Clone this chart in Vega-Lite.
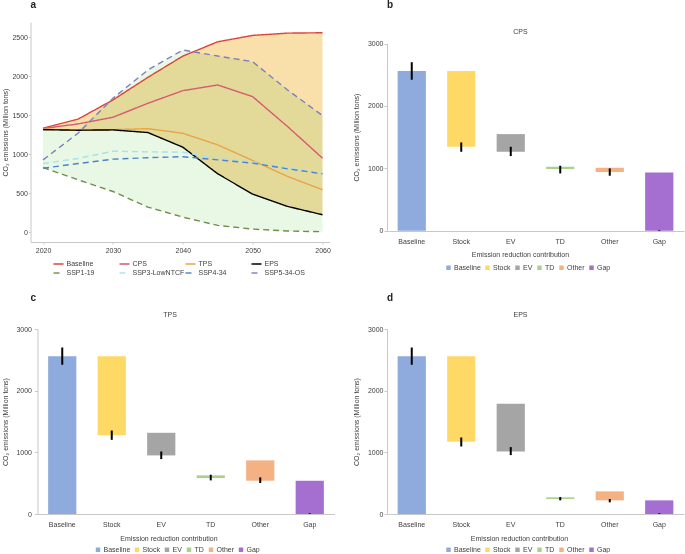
{
 "$schema": "https://vega.github.io/schema/vega-lite/v6.json",
 "padding": {"left": 1.5, "top": 0, "right": 0, "bottom": 0},
 "background": "white",
 "columns": 2,
 "align": "each",
 "spacing": {"row": 17, "column": 17.5},
 "resolve": {"scale": {"color": "independent", "strokeDash": "independent"}, "legend": {"color": "independent", "strokeDash": "independent"}},
 "config": {
  "font": "Liberation Sans",
  "view": {"stroke": null},
  "axis": {"labelFontSize": 7, "titleFontSize": 7, "titleFontWeight": "normal", "labelColor": "#404040", "titleColor": "#404040", "domainColor": "#c8c8c8", "tickColor": "#c8c8c8", "grid": false},
  "legend": {"labelFontSize": 7, "labelColor": "#404040", "padding": 0},
  "title": {"fontSize": 10, "fontWeight": "bold", "color": "#222222"}
 },
 "concat": [
    {
     "width": 299, "height": 220,
     "title": {"text": "a", "anchor": "start", "frame": "group", "offset": 12},
     "data": {"values": [
      {"year": 2020, "Baseline": 1335, "CPS": 1330, "TPS": 1322, "EPS": 1315, "SSP1-19": 829, "SSP3-LowNTCF": 880, "SSP4-34": 820, "SSP5-34-OS": 927, "GreenTop": 1315},
      {"year": 2025, "Baseline": 1450, "CPS": 1389, "TPS": 1305, "EPS": 1308, "SSP1-19": 671, "SSP3-LowNTCF": 945, "SSP4-34": 880, "SSP5-34-OS": 1269, "GreenTop": 1308},
      {"year": 2030, "Baseline": 1697, "CPS": 1474, "TPS": 1315, "EPS": 1312, "SSP1-19": 521, "SSP3-LowNTCF": 1038, "SSP4-34": 936, "SSP5-34-OS": 1718, "GreenTop": 1718},
      {"year": 2035, "Baseline": 1987, "CPS": 1654, "TPS": 1328, "EPS": 1278, "SSP1-19": 320, "SSP3-LowNTCF": 1030, "SSP4-34": 955, "SSP5-34-OS": 2081, "GreenTop": 2081},
      {"year": 2040, "Baseline": 2260, "CPS": 1816, "TPS": 1269, "EPS": 1090, "SSP1-19": 192, "SSP3-LowNTCF": 1026, "SSP4-34": 968, "SSP5-34-OS": 2338, "GreenTop": 2338},
      {"year": 2045, "Baseline": 2444, "CPS": 1889, "TPS": 1120, "EPS": 748, "SSP1-19": 85, "SSP3-LowNTCF": 945, "SSP4-34": 927, "SSP5-34-OS": 2261, "GreenTop": 2261},
      {"year": 2050, "Baseline": 2526, "CPS": 1739, "TPS": 919, "EPS": 487, "SSP1-19": 38, "SSP3-LowNTCF": 900, "SSP4-34": 885, "SSP5-34-OS": 2188, "GreenTop": 2188},
      {"year": 2055, "Baseline": 2555, "CPS": 1355, "TPS": 714, "EPS": 329, "SSP1-19": 13, "SSP3-LowNTCF": 825, "SSP4-34": 812, "SSP5-34-OS": 1825, "GreenTop": 1825},
      {"year": 2060, "Baseline": 2560, "CPS": 949, "TPS": 543, "EPS": 222, "SSP1-19": 4, "SSP3-LowNTCF": 755, "SSP4-34": 748, "SSP5-34-OS": 1496, "GreenTop": 1496}
     ]},
     "layer": [
      {
       "mark": {"type": "area", "color": "#f9e0ab"},
       "encoding": {
        "x": {"field": "year", "type": "quantitative", "title": null, "scale": {"domain": [2018.2, 2061.0], "nice": false, "zero": false}, "axis": {"values": [2020, 2025, 2030, 2035, 2040, 2045, 2050, 2055, 2060], "format": "d", "tickSize": 2, "labelPadding": 2}},
        "y": {"field": "EPS", "type": "quantitative", "title": "CO₂ emissions (Million tons)", "scale": {"domain": [-128, 2698], "nice": false, "zero": false}, "axis": {"values": [0, 500, 1000, 1500, 2000, 2500], "format": "d", "tickSize": 2, "labelPadding": 1, "titlePadding": 3}},
        "y2": {"field": "Baseline"}
       }
      },
      {
       "mark": {"type": "area", "color": "#e9f7e5", "blend": "multiply"},
       "encoding": {
        "x": {"field": "year", "type": "quantitative", "title": null},
        "y": {"field": "SSP1-19", "type": "quantitative", "title": "CO₂ emissions (Million tons)"},
        "y2": {"field": "GreenTop"}
       }
      },
      {
       "transform": [{"fold": ["Baseline", "CPS", "TPS", "EPS", "SSP1-19", "SSP3-LowNTCF", "SSP4-34", "SSP5-34-OS"], "as": ["scenario", "value"]}],
       "mark": {"type": "line", "strokeWidth": 1.4},
       "encoding": {
        "x": {"field": "year", "type": "quantitative", "title": null},
        "y": {"field": "value", "type": "quantitative", "title": "CO₂ emissions (Million tons)"},
        "color": {"field": "scenario", "type": "nominal",
         "scale": {"domain": ["Baseline", "CPS", "TPS", "EPS", "SSP1-19", "SSP3-LowNTCF", "SSP4-34", "SSP5-34-OS"], "range": ["#d8453a", "#d65b72", "#e8a547", "#000000", "#6e8f4a", "#a6e2ee", "#4f82cc", "#7c7fbd"]},
         "legend": {"orient": "none", "legendX": 22, "legendY": 236, "direction": "horizontal", "columns": 4, "title": null, "symbolType": "stroke", "symbolSize": 100, "symbolStrokeWidth": 1.4, "gridAlign": "all", "columnPadding": -5, "rowPadding": 0, "labelOffset": 2}},
        "strokeDash": {"field": "scenario", "type": "nominal",
         "scale": {"domain": ["Baseline", "CPS", "TPS", "EPS", "SSP1-19", "SSP3-LowNTCF", "SSP4-34", "SSP5-34-OS"], "range": [[1, 0], [1, 0], [1, 0], [1, 0], [6, 4], [6, 4], [6, 4], [6, 4]]},
         "legend": {"orient": "none", "legendX": 22, "legendY": 236, "direction": "horizontal", "columns": 4, "title": null, "symbolType": "stroke", "symbolSize": 100, "symbolStrokeWidth": 1.4, "gridAlign": "all", "columnPadding": -5, "rowPadding": 0, "labelOffset": 2}}
       }
      }
     ]
    },
    {
     "width": 297, "height": 209,
     "title": {"text": "b", "anchor": "start", "frame": "group", "offset": 12},
     "data": {"values": [
      {"cat": "Baseline", "lo": 0, "hi": 2560, "elo": 2420, "ehi": 2700},
      {"cat": "Stock", "lo": 1345, "hi": 2560, "elo": 1265, "ehi": 1415},
      {"cat": "EV", "lo": 1265, "hi": 1548, "elo": 1196, "ehi": 1345},
      {"cat": "TD", "lo": 988, "hi": 1025, "elo": 918, "ehi": 1041},
      {"cat": "Other", "lo": 940, "hi": 1009, "elo": 881, "ehi": 998},
      {"cat": "Gap", "lo": 0, "hi": 934, "elo": 0, "ehi": 12}
     ]},
     "resolve": {"axis": {"x": "independent"}},
     "layer": [
      {
       "mark": {"type": "bar"},
       "encoding": {
        "x": {"field": "cat", "type": "nominal", "sort": null, "title": "Emission reduction contribution", "scale": {"paddingInner": 0.43, "paddingOuter": 0.215}, "axis": {"labelAngle": 0, "ticks": false, "tickSize": 0, "labelPadding": 6, "titlePadding": 6, "titleX": 133}},
        "y": {"field": "lo", "type": "quantitative", "title": "CO₂ emissions (Million tons)", "scale": {"domain": [0, 3000], "nice": false, "range": [208.7, 21.5]}, "axis": {"values": [0, 500, 1000, 1500, 2000, 2500, 3000], "format": "d", "tickSize": 3, "labelPadding": 1, "titlePadding": 8}},
        "y2": {"field": "hi"},
        "color": {"field": "cat", "type": "nominal", "sort": null, "scale": {"domain": ["Baseline", "Stock", "EV", "TD", "Other", "Gap"], "range": ["#8faadc", "#ffd966", "#a5a5a5", "#a9d18e", "#f4b183", "#a56fd2"]},
         "legend": {"orient": "none", "legendX": 58, "legendY": 242, "direction": "horizontal", "title": null, "symbolType": "square", "symbolSize": 20, "columnPadding": 3, "labelOffset": 2}}
       }
      },
      {
       "mark": {"type": "rule", "color": "black", "strokeWidth": 2},
       "encoding": {
        "x": {"field": "cat", "type": "nominal", "sort": null, "title": "CPS", "axis": {"orient": "top", "labels": false, "ticks": false, "domain": false, "titleX": 133, "titleY": 11, "titleBaseline": "alphabetic"}},
        "y": {"field": "elo", "type": "quantitative", "title": "CO₂ emissions (Million tons)"},
        "y2": {"field": "ehi"}
       }
      }
     ]
    },
    {
     "width": 304, "height": 185,
     "title": {"text": "c", "anchor": "start", "frame": "group", "offset": 7},
     "data": {"values": [
      {"cat": "Baseline", "lo": 0, "hi": 2560, "elo": 2420, "ehi": 2700},
      {"cat": "Stock", "lo": 1279, "hi": 2560, "elo": 1203, "ehi": 1354},
      {"cat": "EV", "lo": 950, "hi": 1317, "elo": 890, "ehi": 1014},
      {"cat": "TD", "lo": 583, "hi": 626, "elo": 545, "ehi": 637},
      {"cat": "Other", "lo": 540, "hi": 869, "elo": 502, "ehi": 594},
      {"cat": "Gap", "lo": 0, "hi": 540, "elo": 0, "ehi": 12}
     ]},
     "resolve": {"axis": {"x": "independent"}},
     "layer": [
      {
       "mark": {"type": "bar"},
       "encoding": {
        "x": {"field": "cat", "type": "nominal", "sort": null, "title": "Emission reduction contribution", "scale": {"paddingInner": 0.43, "paddingOuter": 0.215, "range": [7, 304]}, "axis": {"labelAngle": 0, "ticks": false, "tickSize": 0, "labelPadding": 6, "titlePadding": 7, "titleX": 138}},
        "y": {"field": "lo", "type": "quantitative", "title": "CO₂ emissions (Million tons)", "scale": {"domain": [0, 3000], "nice": false}, "axis": {"values": [0, 500, 1000, 1500, 2000, 2500, 3000], "format": "d", "offset": -7, "tickSize": 3, "labelPadding": 3, "titlePadding": 7}},
        "y2": {"field": "hi"},
        "color": {"field": "cat", "type": "nominal", "sort": null, "scale": {"domain": ["Baseline", "Stock", "EV", "TD", "Other", "Gap"], "range": ["#8faadc", "#ffd966", "#a5a5a5", "#a9d18e", "#f4b183", "#a56fd2"]},
         "legend": {"orient": "none", "legendX": 64, "legendY": 217, "direction": "horizontal", "title": null, "symbolType": "square", "symbolSize": 20, "columnPadding": 3, "labelOffset": 2}}
       }
      },
      {
       "mark": {"type": "rule", "color": "black", "strokeWidth": 2},
       "encoding": {
        "x": {"field": "cat", "type": "nominal", "sort": null, "title": "TPS", "axis": {"orient": "top", "labels": false, "ticks": false, "domain": false, "titlePadding": 12, "titleX": 139}},
        "y": {"field": "elo", "type": "quantitative", "title": "CO₂ emissions (Million tons)"},
        "y2": {"field": "ehi"}
       }
      }
     ]
    },
    {
     "width": 297, "height": 185,
     "title": {"text": "d", "anchor": "start", "frame": "group", "offset": 7},
     "data": {"values": [
      {"cat": "Baseline", "lo": 0, "hi": 2560, "elo": 2420, "ehi": 2700},
      {"cat": "Stock", "lo": 1171, "hi": 2560, "elo": 1095, "ehi": 1241},
      {"cat": "EV", "lo": 1014, "hi": 1786, "elo": 955, "ehi": 1085},
      {"cat": "TD", "lo": 243, "hi": 270, "elo": 221, "ehi": 275},
      {"cat": "Other", "lo": 221, "hi": 367, "elo": 189, "ehi": 243},
      {"cat": "Gap", "lo": 0, "hi": 221, "elo": 0, "ehi": 12}
     ]},
     "resolve": {"axis": {"x": "independent"}},
     "layer": [
      {
       "mark": {"type": "bar"},
       "encoding": {
        "x": {"field": "cat", "type": "nominal", "sort": null, "title": "Emission reduction contribution", "scale": {"paddingInner": 0.43, "paddingOuter": 0.215}, "axis": {"labelAngle": 0, "ticks": false, "tickSize": 0, "labelPadding": 6, "titlePadding": 7, "titleX": 132}},
        "y": {"field": "lo", "type": "quantitative", "title": "CO₂ emissions (Million tons)", "scale": {"domain": [0, 3000], "nice": false}, "axis": {"values": [0, 500, 1000, 1500, 2000, 2500, 3000], "format": "d", "tickSize": 3, "labelPadding": 1, "titlePadding": 8}},
        "y2": {"field": "hi"},
        "color": {"field": "cat", "type": "nominal", "sort": null, "scale": {"domain": ["Baseline", "Stock", "EV", "TD", "Other", "Gap"], "range": ["#8faadc", "#ffd966", "#a5a5a5", "#a9d18e", "#f4b183", "#a56fd2"]},
         "legend": {"orient": "none", "legendX": 58, "legendY": 217, "direction": "horizontal", "title": null, "symbolType": "square", "symbolSize": 20, "columnPadding": 3, "labelOffset": 2}}
       }
      },
      {
       "mark": {"type": "rule", "color": "black", "strokeWidth": 2},
       "encoding": {
        "x": {"field": "cat", "type": "nominal", "sort": null, "title": "EPS", "axis": {"orient": "top", "labels": false, "ticks": false, "domain": false, "titlePadding": 12, "titleX": 133}},
        "y": {"field": "elo", "type": "quantitative", "title": "CO₂ emissions (Million tons)"},
        "y2": {"field": "ehi"}
       }
      }
     ]
    }
 ]
}
